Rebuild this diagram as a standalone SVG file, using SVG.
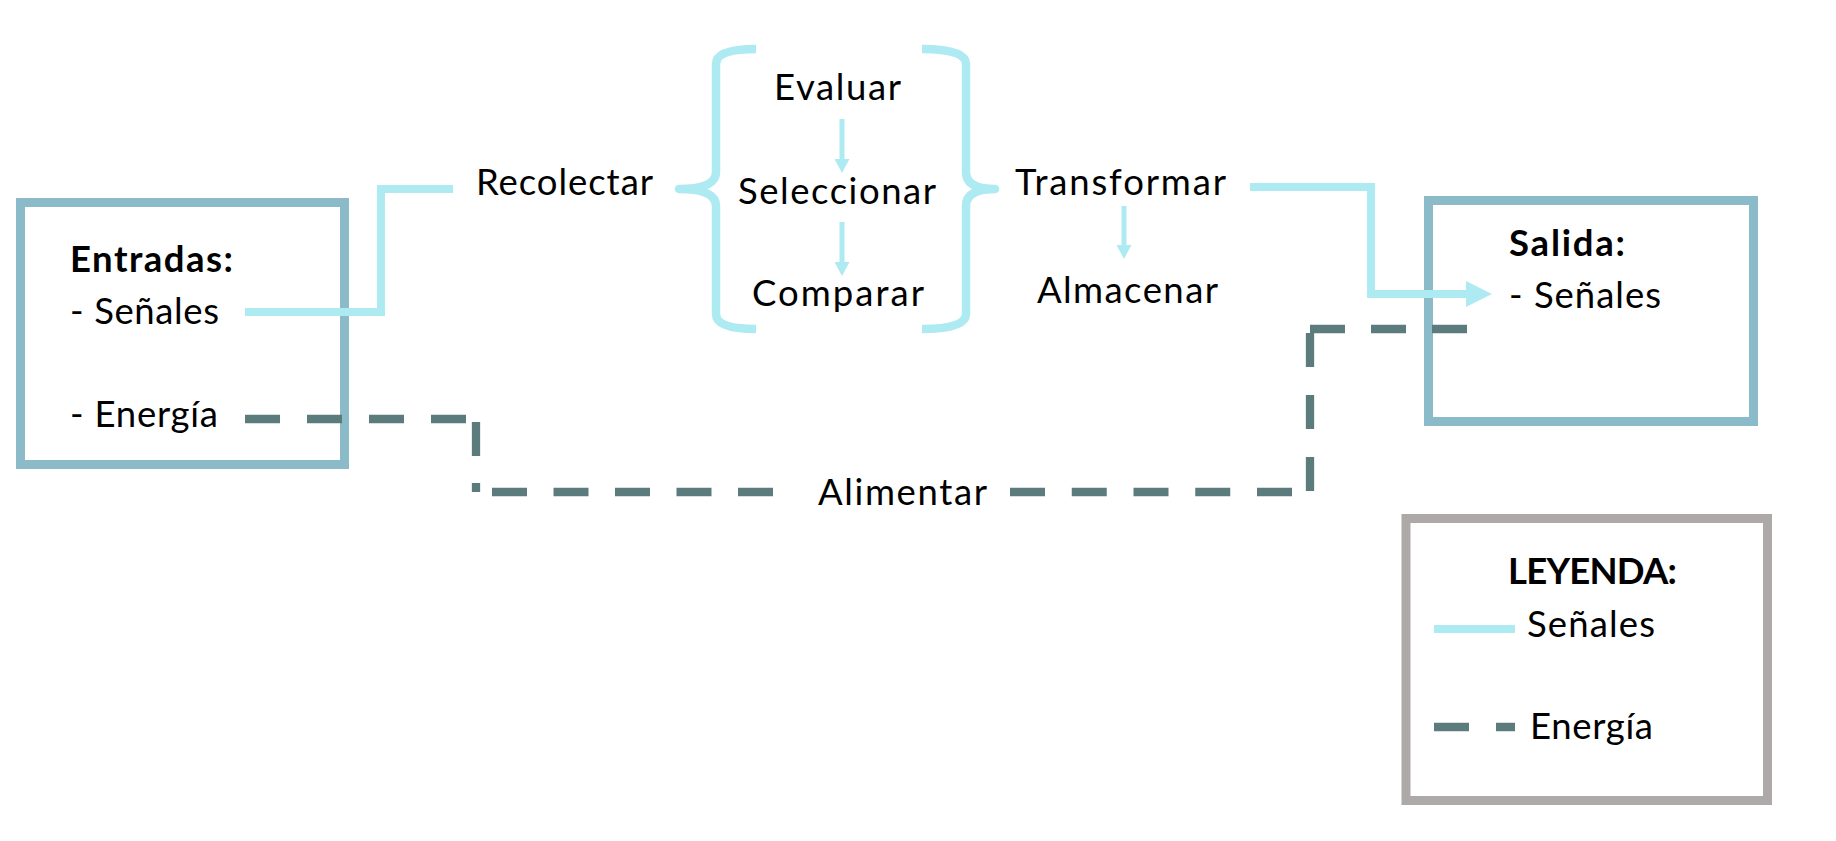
<svg xmlns="http://www.w3.org/2000/svg" width="1836" height="841" viewBox="0 0 1836 841">
<defs>
<style>
.t{font-family:Lato,"Open Sans","Liberation Sans",sans-serif;font-size:36.5px;fill:#000}
.b{font-weight:bold}
.box{fill:none;stroke:#8BBBC9;stroke-width:9}
.legend{fill:none;stroke:#ADA9A8;stroke-width:9}
.sig{fill:none;stroke:#AEEAF1;stroke-width:8;stroke-linejoin:miter}
.sigs{fill:none;stroke:#AEEAF1;stroke-width:5}
.en{fill:none;stroke:#5C7B7C;stroke-width:8.3}
.brace{fill:none;stroke:#AEEAF1;stroke-width:8.5;stroke-linejoin:round}
</style>
<marker id="ah" markerUnits="userSpaceOnUse" markerWidth="26" markerHeight="26" refX="0" refY="13" orient="auto"><path d="M0,0 L26,13 L0,26 z" fill="#AEEAF1"/></marker>
<marker id="ahs" markerUnits="userSpaceOnUse" markerWidth="14" markerHeight="15" refX="0" refY="7.5" orient="auto"><path d="M0,0 L14,7.5 L0,15 z" fill="#AEEAF1"/></marker>
</defs>
<rect width="1836" height="841" fill="#fff"/>

<g id="entradas">
<rect class="box" x="20.5" y="202.5" width="324" height="262"/>
<text class="t b" x="70" y="272" textLength="163">Entradas:</text>
<text class="t" x="70" y="324" textLength="149">- Señales</text>
<text class="t" x="70" y="427" textLength="148">- Energía</text>
</g>

<g id="recolectar"><text class="t" x="476" y="195" textLength="177">Recolectar</text></g>

<g id="procesar">
<path class="brace" d="M756,49 Q716,49 716,64 L716,172 Q716,189 679,189 Q716,189 716,206 L716,314 Q716,329 756,329"/>
<path class="brace" d="M922,49 Q966,49 966,64 L966,172 Q966,189 995,189 Q966,189 966,206 L966,314 Q966,329 922,329"/>
<g id="evaluar"><text class="t" x="774" y="100" textLength="127">Evaluar</text></g>
<g id="seleccionar"><text class="t" x="738" y="204" textLength="198">Seleccionar</text></g>
<g id="comparar"><text class="t" x="752" y="306" textLength="172">Comparar</text></g>
</g>

<g id="transformar"><text class="t" x="1015" y="195" textLength="211">Transformar</text></g>
<g id="almacenar"><text class="t" x="1037" y="303" textLength="181">Almacenar</text></g>
<g id="alimentar"><text class="t" x="818" y="505" textLength="169">Alimentar</text></g>

<g id="salida">
<rect class="box" x="1428.5" y="200.5" width="325" height="221"/>
<text class="t b" x="1509" y="256" textLength="116">Salida:</text>
<text class="t" x="1509" y="308" textLength="152">- Señales</text>
</g>

<g id="leyenda">
<rect class="legend" x="1406" y="518.5" width="361.5" height="282"/>
<text class="t b" x="1508" y="584" textLength="169">LEYENDA:</text>
<line class="sig" x1="1434" y1="629" x2="1515" y2="629"/>
<text class="t" x="1527" y="637" textLength="128">Señales</text>
<line class="en" x1="1434" y1="727" x2="1515" y2="727" stroke-dasharray="35 27"/>
<text class="t" x="1530" y="739" textLength="123">Energía</text>
</g>

<g id="connectors">
<path class="sig" d="M245,312 H381 V189 H453"/>
<path class="sig" d="M1250,187 H1371 V294 H1466" marker-end="url(#ah)"/>
<line class="sigs" x1="842" y1="119" x2="842" y2="159" marker-end="url(#ahs)"/>
<line class="sigs" x1="842" y1="222" x2="842" y2="262" marker-end="url(#ahs)"/>
<line class="sigs" x1="1124" y1="206" x2="1124" y2="245" marker-end="url(#ahs)"/>
<line class="en" x1="245" y1="419" x2="476" y2="419" stroke-dasharray="35 27"/>
<line class="en" x1="476" y1="422" x2="476" y2="492" stroke-dasharray="34 27"/>
<line class="en" x1="492" y1="492" x2="774" y2="492" stroke-dasharray="35 26.5"/>
<line class="en" x1="1010" y1="492" x2="1293" y2="492" stroke-dasharray="35 26.75"/>
<line class="en" x1="1310" y1="491" x2="1310" y2="333" stroke-dasharray="34 28"/>
<line class="en" x1="1310" y1="329" x2="1469" y2="329" stroke-dasharray="35 26"/>
</g>
</svg>
